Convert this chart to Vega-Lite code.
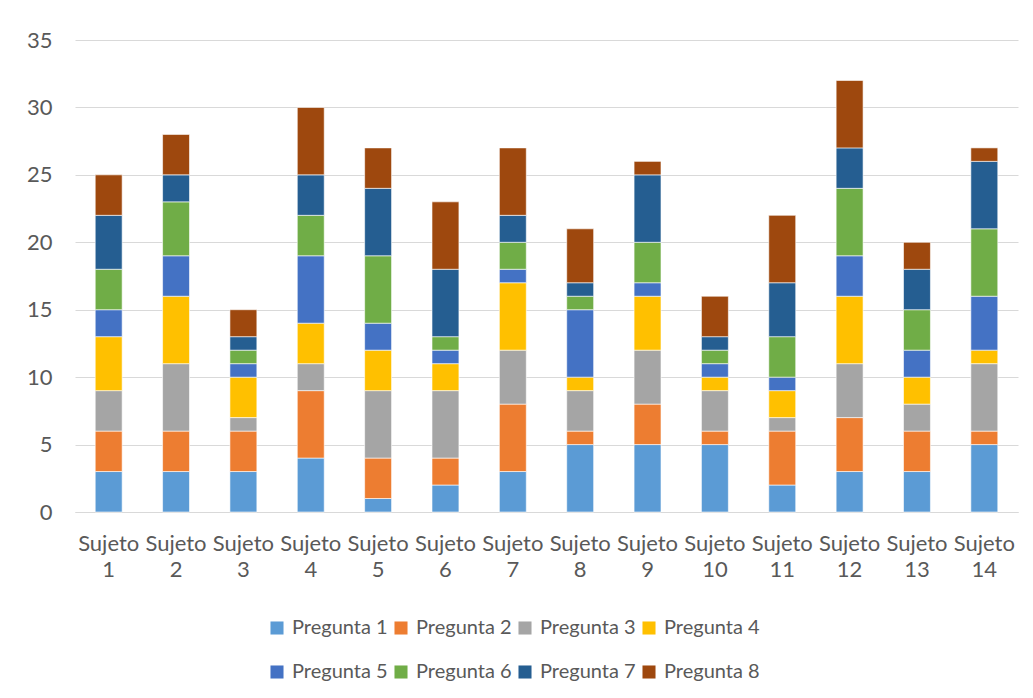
{
  "$schema": "https://vega.github.io/schema/vega-lite/v6.json",
  "autosize": "none",
  "width": 943,
  "height": 472,
  "padding": {"left": 75, "top": 40, "right": 15, "bottom": 186},
  "background": "white",
  "config": {
    "font": "Lato",
    "view": {"stroke": null},
    "axis": {"labelColor": "#595959", "labelFont": "Lato", "gridColor": "#D9D9D9", "domainColor": "#D9D9D9", "ticks": false, "title": null}
  },
  "data": {"values": [
    {"s":1,"p":"Pregunta 1","v":3},{"s":1,"p":"Pregunta 2","v":3},{"s":1,"p":"Pregunta 3","v":3},{"s":1,"p":"Pregunta 4","v":4},{"s":1,"p":"Pregunta 5","v":2},{"s":1,"p":"Pregunta 6","v":3},{"s":1,"p":"Pregunta 7","v":4},{"s":1,"p":"Pregunta 8","v":3},
    {"s":2,"p":"Pregunta 1","v":3},{"s":2,"p":"Pregunta 2","v":3},{"s":2,"p":"Pregunta 3","v":5},{"s":2,"p":"Pregunta 4","v":5},{"s":2,"p":"Pregunta 5","v":3},{"s":2,"p":"Pregunta 6","v":4},{"s":2,"p":"Pregunta 7","v":2},{"s":2,"p":"Pregunta 8","v":3},
    {"s":3,"p":"Pregunta 1","v":3},{"s":3,"p":"Pregunta 2","v":3},{"s":3,"p":"Pregunta 3","v":1},{"s":3,"p":"Pregunta 4","v":3},{"s":3,"p":"Pregunta 5","v":1},{"s":3,"p":"Pregunta 6","v":1},{"s":3,"p":"Pregunta 7","v":1},{"s":3,"p":"Pregunta 8","v":2},
    {"s":4,"p":"Pregunta 1","v":4},{"s":4,"p":"Pregunta 2","v":5},{"s":4,"p":"Pregunta 3","v":2},{"s":4,"p":"Pregunta 4","v":3},{"s":4,"p":"Pregunta 5","v":5},{"s":4,"p":"Pregunta 6","v":3},{"s":4,"p":"Pregunta 7","v":3},{"s":4,"p":"Pregunta 8","v":5},
    {"s":5,"p":"Pregunta 1","v":1},{"s":5,"p":"Pregunta 2","v":3},{"s":5,"p":"Pregunta 3","v":5},{"s":5,"p":"Pregunta 4","v":3},{"s":5,"p":"Pregunta 5","v":2},{"s":5,"p":"Pregunta 6","v":5},{"s":5,"p":"Pregunta 7","v":5},{"s":5,"p":"Pregunta 8","v":3},
    {"s":6,"p":"Pregunta 1","v":2},{"s":6,"p":"Pregunta 2","v":2},{"s":6,"p":"Pregunta 3","v":5},{"s":6,"p":"Pregunta 4","v":2},{"s":6,"p":"Pregunta 5","v":1},{"s":6,"p":"Pregunta 6","v":1},{"s":6,"p":"Pregunta 7","v":5},{"s":6,"p":"Pregunta 8","v":5},
    {"s":7,"p":"Pregunta 1","v":3},{"s":7,"p":"Pregunta 2","v":5},{"s":7,"p":"Pregunta 3","v":4},{"s":7,"p":"Pregunta 4","v":5},{"s":7,"p":"Pregunta 5","v":1},{"s":7,"p":"Pregunta 6","v":2},{"s":7,"p":"Pregunta 7","v":2},{"s":7,"p":"Pregunta 8","v":5},
    {"s":8,"p":"Pregunta 1","v":5},{"s":8,"p":"Pregunta 2","v":1},{"s":8,"p":"Pregunta 3","v":3},{"s":8,"p":"Pregunta 4","v":1},{"s":8,"p":"Pregunta 5","v":5},{"s":8,"p":"Pregunta 6","v":1},{"s":8,"p":"Pregunta 7","v":1},{"s":8,"p":"Pregunta 8","v":4},
    {"s":9,"p":"Pregunta 1","v":5},{"s":9,"p":"Pregunta 2","v":3},{"s":9,"p":"Pregunta 3","v":4},{"s":9,"p":"Pregunta 4","v":4},{"s":9,"p":"Pregunta 5","v":1},{"s":9,"p":"Pregunta 6","v":3},{"s":9,"p":"Pregunta 7","v":5},{"s":9,"p":"Pregunta 8","v":1},
    {"s":10,"p":"Pregunta 1","v":5},{"s":10,"p":"Pregunta 2","v":1},{"s":10,"p":"Pregunta 3","v":3},{"s":10,"p":"Pregunta 4","v":1},{"s":10,"p":"Pregunta 5","v":1},{"s":10,"p":"Pregunta 6","v":1},{"s":10,"p":"Pregunta 7","v":1},{"s":10,"p":"Pregunta 8","v":3},
    {"s":11,"p":"Pregunta 1","v":2},{"s":11,"p":"Pregunta 2","v":4},{"s":11,"p":"Pregunta 3","v":1},{"s":11,"p":"Pregunta 4","v":2},{"s":11,"p":"Pregunta 5","v":1},{"s":11,"p":"Pregunta 6","v":3},{"s":11,"p":"Pregunta 7","v":4},{"s":11,"p":"Pregunta 8","v":5},
    {"s":12,"p":"Pregunta 1","v":3},{"s":12,"p":"Pregunta 2","v":4},{"s":12,"p":"Pregunta 3","v":4},{"s":12,"p":"Pregunta 4","v":5},{"s":12,"p":"Pregunta 5","v":3},{"s":12,"p":"Pregunta 6","v":5},{"s":12,"p":"Pregunta 7","v":3},{"s":12,"p":"Pregunta 8","v":5},
    {"s":13,"p":"Pregunta 1","v":3},{"s":13,"p":"Pregunta 2","v":3},{"s":13,"p":"Pregunta 3","v":2},{"s":13,"p":"Pregunta 4","v":2},{"s":13,"p":"Pregunta 5","v":2},{"s":13,"p":"Pregunta 6","v":3},{"s":13,"p":"Pregunta 7","v":3},{"s":13,"p":"Pregunta 8","v":2},
    {"s":14,"p":"Pregunta 1","v":5},{"s":14,"p":"Pregunta 2","v":1},{"s":14,"p":"Pregunta 3","v":5},{"s":14,"p":"Pregunta 4","v":1},{"s":14,"p":"Pregunta 5","v":4},{"s":14,"p":"Pregunta 6","v":5},{"s":14,"p":"Pregunta 7","v":5},{"s":14,"p":"Pregunta 8","v":1}
  ]},
  "mark": {"type": "bar", "stroke": "white", "strokeWidth": 0.6},
  "encoding": {
    "x": {
      "field": "s", "type": "ordinal",
      "scale": {"paddingInner": 0.6, "paddingOuter": 0.3},
      "axis": {"labelAngle": 0, "labelExpr": "['Sujeto', datum.value]", "labelFontSize": 22, "labelLineHeight": 26, "labelPadding": 21, "labelBaseline": "top", "domain": true, "domainColor": "#D9D9D9", "grid": false}
    },
    "y": {
      "field": "v", "type": "quantitative", "aggregate": "sum", "stack": "zero",
      "scale": {"domain": [0, 35], "nice": false},
      "axis": {"values": [0,5,10,15,20,25,30,35], "labelFontSize": 22, "labelPadding": 23, "domain": false, "grid": true, "gridWidth": 1}
    },
    "color": {
      "field": "p", "type": "nominal",
      "scale": {"range": ["#5B9BD5","#ED7D31","#A5A5A5","#FFC000","#4472C4","#70AD47","#255E91","#9E480E"]},
      "legend": {"orient": "none", "legendX": 192, "legendY": 578, "columns": 4, "direction": "horizontal", "title": null, "symbolType": "square", "symbolSize": 170, "symbolStrokeWidth": 0, "labelFontSize": 20, "labelColor": "#595959", "labelFont": "Lato", "rowPadding": 24, "columnPadding": 3, "labelOffset": 5}
    },
    "order": {"field": "p"}
  }
}
